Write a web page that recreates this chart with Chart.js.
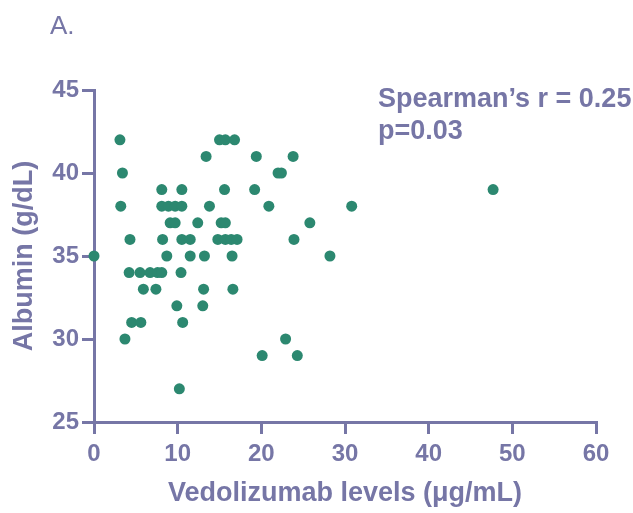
<!DOCTYPE html>
<html>
<head>
<meta charset="utf-8">
<script src="https://cdn.jsdelivr.net/npm/chart.js@4.4.1/dist/chart.umd.min.js"></script>
<style>
    html, body { margin: 0; padding: 0; background: #ffffff; }
    #wrap { width: 633px; height: 513px; position: relative; }
</style>
</head>
<body>
<div id="wrap"><canvas id="scatter-chart"></canvas></div>
<script>
// Vedolizumab level (ug/mL) and albumin (g/dL) per patient
const vedoLevels = [
    0, 3.1, 3.4, 3.2, 3.7, 4.3,
    4.2, 5.5, 6.7, 7.6, 8.1, 10.4,
    4.5, 5.6, 10.6,
    5.9, 7.4, 13.1, 16.6,
    9.9, 13.0,
    10.2,
    8.1, 10.5, 15.6, 19.2, 47.7,
    8.1, 8.9, 9.7, 10.5, 13.8, 20.9, 30.8,
    9.1, 9.7, 12.4, 15.2, 15.7, 25.8,
    8.2, 10.5, 11.5, 14.8, 15.7, 16.4, 17.1, 23.9,
    8.7, 11.5, 13.2, 16.5, 28.2,
    13.4, 19.4, 23.8,
    15.0, 15.7, 16.8,
    22.0, 22.4,
    22.9,
    20.1, 24.3
];
const albumin = [
    35, 42, 40, 38, 30, 36,
    34, 34, 34, 34, 34, 34,
    31, 31, 31,
    33, 33, 33, 33,
    32, 32,
    27,
    39, 39, 39, 39, 39,
    38, 38, 38, 38, 38, 38, 38,
    37, 37, 37, 37, 37, 37,
    36, 36, 36, 36, 36, 36, 36, 36,
    35, 35, 35, 35, 35,
    41, 41, 41,
    42, 42, 42,
    40, 40,
    30,
    29, 29
];
const xTicks = [0, 10, 20, 30, 40, 50, 60];
const yTicks = [25, 30, 35, 40, 45];
const statLines = ['Spearman\u2019s r = 0.25', 'p=0.03'];

const axisColor = 'rgb(118,118,166)';
const dotColor = 'rgb(44,136,112)';
const fontFamily = '"Liberation Sans", Arial, sans-serif';

const points = vedoLevels.map((v, i) => ({ x: v, y: albumin[i] }));

// panel letter and correlation text
const textPlugin = {
    id: 'panelText',
    afterDraw(chart) {
        const ctx = chart.ctx;
        ctx.save();
        ctx.fillStyle = axisColor;
        ctx.textAlign = 'left';
        ctx.textBaseline = 'alphabetic';
        ctx.font = '26px ' + fontFamily;
        ctx.fillText('A.', 50, 34);
        ctx.font = 'bold 27px ' + fontFamily;
        ctx.fillText(statLines[0], 378, 107);
        ctx.fillText(statLines[1], 378, 139);
        ctx.restore();
    }
};

new Chart(document.getElementById('scatter-chart'), {
    type: 'scatter',
    data: {
        datasets: [{
            data: points,
            backgroundColor: dotColor,
            borderColor: dotColor,
            pointRadius: 5.5,
            pointHoverRadius: 5.5,
            borderWidth: 0,
            clip: false
        }]
    },
    options: {
        responsive: true,
        maintainAspectRatio: false,
        animation: false,
        layout: { padding: { top: 90, right: 37, left: 0, bottom: 0 } },
        plugins: {
            legend: { display: false },
            tooltip: { enabled: false }
        },
        scales: {
            x: {
                min: 0,
                max: 60,
                afterFit(scale) { scale.height = 91; },
                afterBuildTicks(scale) { scale.ticks = xTicks.map(v => ({ value: v })); },
                border: { display: true, color: axisColor, width: 3 },
                grid: { drawOnChartArea: false, drawTicks: true, tickLength: 12, color: axisColor, lineWidth: 3 },
                ticks: { color: axisColor, padding: 6, maxRotation: 0, font: { family: fontFamily, size: 24, weight: 'bold' } },
                title: {
                    display: true,
                    text: 'Vedolizumab levels (\u03bcg/mL)',
                    color: axisColor,
                    padding: { top: 0, bottom: 3 },
                    font: { family: fontFamily, size: 27, weight: 'bold' }
                }
            },
            y: {
                min: 25,
                max: 45,
                afterFit(scale) { scale.width = 94; },
                afterBuildTicks(scale) { scale.ticks = yTicks.map(v => ({ value: v })); },
                border: { display: true, color: axisColor, width: 3 },
                grid: { drawOnChartArea: false, drawTicks: true, tickLength: 12, color: axisColor, lineWidth: 3 },
                ticks: { color: axisColor, padding: 3, font: { family: fontFamily, size: 24, weight: 'bold' } },
                title: {
                    display: true,
                    text: 'Albumin (g/dL)',
                    color: axisColor,
                    padding: { top: 8, bottom: 0 },
                    font: { family: fontFamily, size: 27, weight: 'bold' }
                }
            }
        }
    },
    plugins: [textPlugin]
});
</script>
</body>
</html>
